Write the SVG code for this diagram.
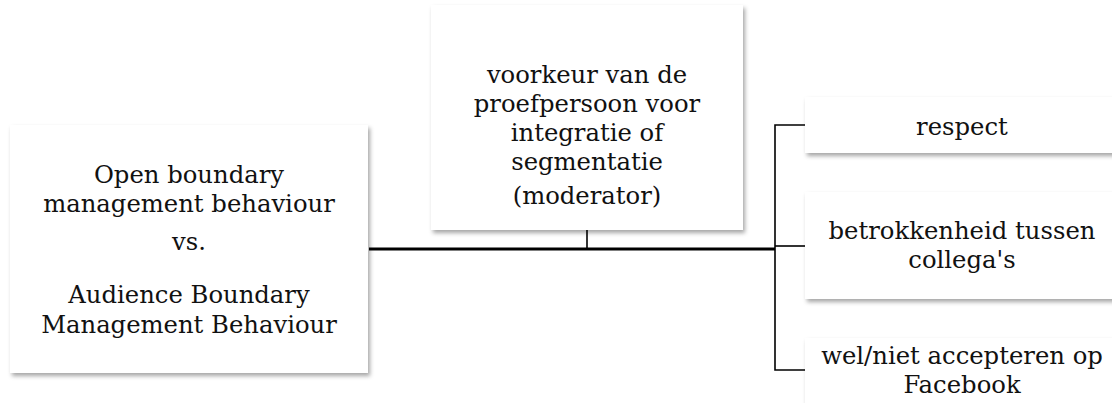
<svg xmlns="http://www.w3.org/2000/svg" width="1112" height="403" viewBox="0 0 1112 403">
  <defs>
    <filter id="shadow" x="-10%" y="-10%" width="120%" height="130%">
      <feDropShadow dx="2" dy="3" stdDeviation="2" flood-color="#000" flood-opacity="0.35"/>
    </filter>
    <style>
      .box { fill: #fff; filter: url(#shadow); }
      .lbl { font-family: "DejaVu Serif", "Liberation Serif", serif; font-size: 24.3px; fill: #111; text-anchor: middle; }
      .main { stroke: #000; stroke-width: 3; fill: none; }
      .thin { stroke: #000; stroke-width: 1.6; fill: none; }
    </style>
  </defs>
  <rect width="1112" height="403" fill="#fff"/>

  <!-- connectors -->
  <g id="connectors">
    <line class="main" x1="369" y1="249" x2="775" y2="249"/>
    <line class="thin" x1="587" y1="230" x2="587" y2="249"/>
    <polyline class="thin" points="805,125 775,125 775,370 805,370"/>
    <line class="thin" x1="775" y1="246" x2="805" y2="246"/>
  </g>

  <!-- independent variable -->
  <g id="node-boundary">
    <rect class="box" x="10" y="125" width="358" height="248"/>
    <text class="lbl" x="189" y="183">Open boundary</text>
    <text class="lbl" x="189" y="212">management behaviour</text>
    <text class="lbl" x="189" y="250">vs.</text>
    <text class="lbl" x="189" y="303">Audience Boundary</text>
    <text class="lbl" x="189" y="333">Management Behaviour</text>
  </g>

  <!-- moderator -->
  <g id="node-moderator">
    <rect class="box" x="431" y="5" width="312" height="225"/>
    <text class="lbl" x="587" y="83">voorkeur van de</text>
    <text class="lbl" x="587" y="112">proefpersoon voor</text>
    <text class="lbl" x="587" y="141">integratie of</text>
    <text class="lbl" x="587" y="170">segmentatie</text>
    <text class="lbl" x="587" y="204">(moderator)</text>
  </g>

  <!-- outcomes -->
  <g id="node-respect">
    <rect class="box" x="805" y="97" width="320" height="56"/>
    <text class="lbl" x="962" y="135">respect</text>
  </g>
  <g id="node-betrokkenheid">
    <rect class="box" x="805" y="192" width="320" height="107"/>
    <text class="lbl" x="962" y="239">betrokkenheid tussen</text>
    <text class="lbl" x="962" y="268">collega's</text>
  </g>
  <g id="node-facebook">
    <rect class="box" x="805" y="338" width="320" height="80"/>
    <text class="lbl" x="962" y="364">wel/niet accepteren op</text>
    <text class="lbl" x="962" y="393">Facebook</text>
  </g>
</svg>
